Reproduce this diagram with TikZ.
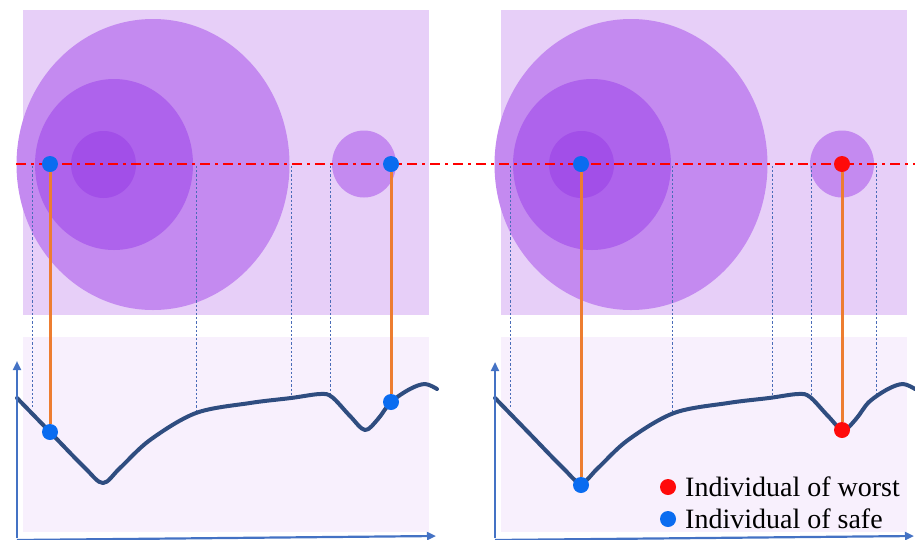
\documentclass[tikz,border=0pt]{standalone}
\usepackage{fontspec}
\setmainfont{Liberation Serif}
\usetikzlibrary{arrows.meta}
\definecolor{rectTop}{HTML}{E7CFF8}
\definecolor{rectLow}{HTML}{F8F0FD}
\definecolor{circA}{HTML}{C48AF0}
\definecolor{circB}{HTML}{AE63EC}
\definecolor{circC}{HTML}{A24FE8}
\definecolor{axisBlue}{HTML}{4472C4}
\definecolor{curveNavy}{HTML}{2F4D80}
\definecolor{orangeLn}{HTML}{ED7D31}
\definecolor{dotBlue}{HTML}{0A6CF0}
\definecolor{dotRed}{HTML}{FF0A0A}
\definecolor{guideBlue}{HTML}{4A6CB8}
\tikzset{
  dotnode/.style={circle,inner sep=0pt,minimum size=16pt,fill=#1},
  guide/.style={guideBlue,line width=0.9pt,dash pattern=on 2.2pt off 2pt},
  linkline/.style={orangeLn,line width=3pt},
  curveline/.style={curveNavy,line width=4pt,line cap=round,line join=round},
  axisline/.style={axisBlue,line width=2.2pt,-{Triangle[length=9pt,width=8pt]}},
  redline/.style={red,line width=2.8pt,dash pattern=on 10pt off 5pt on 3pt off 5pt},
  legendtext/.style={font=\fontsize{28}{30}\selectfont,anchor=base west,inner sep=0pt}
}
\begin{document}
\begin{tikzpicture}[x=1pt,y=-1pt]
\useasboundingbox (0,0) rectangle (915,539);
% ---------- panels ----------
\foreach \dx in {0,478}{
  \begin{scope}[xshift=\dx pt]
    \fill[rectTop] (23,10) rectangle (429,315);
    \fill[rectLow] (23,337) rectangle (429,532);
    \fill[circA] (153,164.5) ellipse [x radius=136.5, y radius=145.5];
    \fill[circB] (114,164.5) ellipse [x radius=79, y radius=85.5];
    \fill[circC] (103.5,164.5) ellipse [x radius=32.5, y radius=33.5];
    \fill[circA] (364,164) ellipse [x radius=32, y radius=33.5];
  \end{scope}
}
% ---------- guide coordinates ----------
\coordinate (gL1t) at (32,166);  \coordinate (gL1b) at (32,407);
\coordinate (gL2t) at (196,166); \coordinate (gL2b) at (196,410);
\coordinate (gL3t) at (291,166); \coordinate (gL3b) at (291,398);
\coordinate (gL4t) at (330,166); \coordinate (gL4b) at (330,394);
\coordinate (gR1t) at (510,166); \coordinate (gR1b) at (510,407);
\coordinate (gR2t) at (672,166); \coordinate (gR2b) at (672,412);
\coordinate (gR3t) at (772,166); \coordinate (gR3b) at (772,397);
\coordinate (gR4t) at (811,166); \coordinate (gR4b) at (811,395);
\coordinate (gR5t) at (876,166); \coordinate (gR5b) at (876,395);
\foreach \g in {L1,L2,L3,L4,R1,R2,R3,R4,R5}{
  \draw[guide] (g\g t) -- (g\g b);
}
% ---------- red dash-dot line ----------
\coordinate (redA) at (16,164);
\coordinate (redB) at (915,164);
\draw[redline] (redA) -- (redB);
% ---------- curves ----------
\foreach \dx in {0,478}{
  \begin{scope}[xshift=\dx pt]
    \draw[curveline] plot[smooth,tension=0.55] coordinates {
      (17,398) (50,432) (85,468) (103,483) (120,468) (150,440) (196,413)
      (250,403) (291,398) (320,394) (332,397) (350,416) (365,430) (378,419)
      (391,402) (410,389) (425,384) (437,389)};
  \end{scope}
}
% ---------- axes ----------
\coordinate (oL) at (17,538); \coordinate (yL) at (17,361); \coordinate (xL) at (436,536);
\coordinate (oR) at (495,538); \coordinate (yR) at (495,362); \coordinate (xR) at (914,536);
\draw[axisline] (oL) -- (yL);
\draw[axisline] ([yshift=-2pt]oL) -- (xL);
\draw[axisline] (oR) -- (yR);
\draw[axisline] ([yshift=-2pt]oR) -- (xR);
% ---------- individuals ----------
\node[dotnode=dotBlue] (a1) at (50,164) {};
\node[dotnode=dotBlue] (a2) at (50,432) {};
\node[dotnode=dotBlue] (b1) at (391,164) {};
\node[dotnode=dotBlue] (b2) at (391,402) {};
\node[dotnode=dotBlue] (c1) at (581,164) {};
\node[dotnode=dotBlue] (c2) at (581,485) {};
\node[dotnode=dotRed]  (d1) at (842,164) {};
\node[dotnode=dotRed]  (d2) at (842,430) {};
\draw[linkline] (a1) -- (a2);
\draw[linkline] (b1) -- (b2);
\draw[linkline] (c1) -- (c2);
\draw[linkline] (d1) -- (d2);
% ---------- legend ----------
\node[dotnode=dotRed]  (lr) at (668,487) {};
\node[dotnode=dotBlue] (lb) at (668,519) {};
\node[legendtext] (tw) at (685,496) {Individual of worst};
\node[legendtext] (ts) at (685,528) {Individual of safe};
\end{tikzpicture}
\end{document}
